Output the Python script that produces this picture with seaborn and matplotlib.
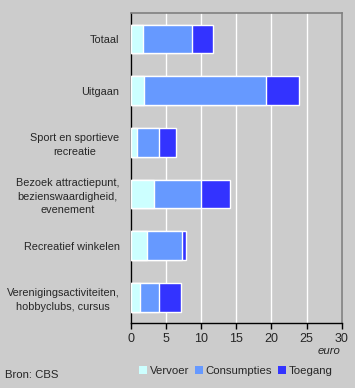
import pandas as pd
import seaborn as sns
import matplotlib.pyplot as plt
from matplotlib.patches import Patch

categories = [
    "Totaal",
    "Uitgaan",
    "Sport en sportieve\nrecreatie",
    "Bezoek attractiepunt,\nbezienswaardigheid,\nevenement",
    "Recreatief winkelen",
    "Verenigingsactiviteiten,\nhobbyclubs, cursus",
]
vervoer = [1.7, 1.9, 0.9, 3.3, 2.3, 1.3]
consumpties = [7.0, 17.3, 3.1, 6.7, 5.0, 2.7]
toegang = [3.0, 4.7, 2.4, 4.1, 0.55, 3.1]

series = ["Vervoer", "Consumpties", "Toegang"]
colors = ["#ccffff", "#6699ff", "#3333ff"]

df = pd.DataFrame(
    {"cat": categories, "Vervoer": vervoer, "Consumpties": consumpties, "Toegang": toegang}
)
# cumulative ends for stacking
df["c1"] = df["Vervoer"]
df["c2"] = df["c1"] + df["Consumpties"]
df["c3"] = df["c2"] + df["Toegang"]

sns.set_style("white")
plt.rcParams["font.family"] = ["Liberation Sans", "DejaVu Sans"]
plt.rcParams["font.size"] = 8

bg = "#cccccc"
fig = plt.figure(figsize=(3.55, 3.88), dpi=100, facecolor=bg)
ax = fig.add_axes([0.368, 0.1675, 0.595, 0.7985])
ax.set_facecolor(bg)

# draw the longest first so the shorter ones overlay
for col, c in zip(["c3", "c2", "c1"], colors[::-1]):
    sns.barplot(
        data=df, x=col, y="cat", order=categories, color=c,
        orient="h", width=0.555, saturation=1, ax=ax, zorder=3,
    )

ax.set_xlim(0, 30)
ax.set_xticks(range(0, 31, 5))
ax.grid(axis="x", color="white", linewidth=1.0, zorder=0)
ax.set_axisbelow(True)
ax.set_xlabel("")
ax.set_ylabel("")

for s in ["top", "right"]:
    ax.spines[s].set_color("#808080")
    ax.spines[s].set_linewidth(1.2)
for s in ["left", "bottom"]:
    ax.spines[s].set_color("black")
    ax.spines[s].set_linewidth(1.0)

ax.tick_params(axis="x", direction="out", length=4, width=1, color="black",
               labelsize=9, pad=3, bottom=True)
ax.tick_params(axis="y", length=0, pad=8, labelsize=7.8)
for lab in ax.get_yticklabels():
    lab.set_multialignment("center")
    lab.set_linespacing(1.45)

fig.text(0.958, 0.095, "euro", ha="right", va="center", style="italic", fontsize=8.2)
fig.text(0.014, 0.033, "Bron: CBS", ha="left", va="center", fontsize=8.2)

handles = [Patch(facecolor=c, edgecolor="none", label=s) for s, c in zip(series, colors)]
fig.legend(handles=handles, loc="center", bbox_to_anchor=(0.664, 0.043), ncol=3,
           frameon=False, handlelength=0.7, handleheight=0.7, handletextpad=0.25,
           columnspacing=0.5, fontsize=8.2, borderpad=0)

fig.savefig("out.png", dpi=100, facecolor=bg)
